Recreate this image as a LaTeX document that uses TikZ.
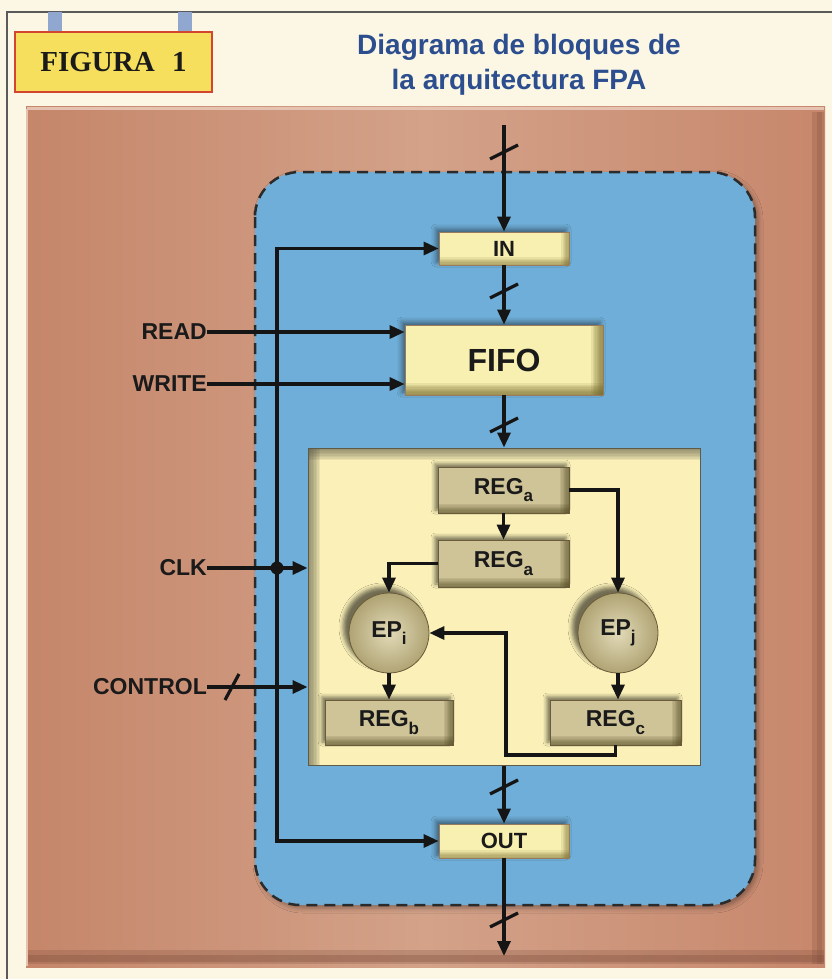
\documentclass[tikz,border=0pt]{standalone}
\usepackage{fontspec}
\setmainfont{Liberation Sans}
\newfontfamily\figfont{Liberation Serif}
\usetikzlibrary{arrows.meta,shadows.blur,calc}
\definecolor{cream}{HTML}{FBF7E4}
\definecolor{framec}{HTML}{5A5A5A}
\definecolor{tabc}{HTML}{90A8CF}
\definecolor{figfill}{HTML}{F5DF5C}
\definecolor{figbord}{HTML}{D2452E}
\definecolor{titlec}{HTML}{2C4E8F}
\definecolor{brL}{HTML}{C5866A}
\definecolor{brM}{HTML}{D3A289}
\definecolor{brR}{HTML}{C7876C}
\definecolor{brHi}{HTML}{E6C3B0}
\definecolor{brDk}{HTML}{7A4A38}
\definecolor{bluec}{HTML}{6FAED8}
\definecolor{dashc}{HTML}{2B2B2B}
\definecolor{wirec}{HTML}{151515}
\definecolor{textc}{HTML}{1A1A1A}
\definecolor{yfill}{HTML}{F8F0B0}
\definecolor{yshad}{HTML}{6E6428}
\definecolor{ybord}{HTML}{9A7A5C}
\definecolor{innerfill}{HTML}{FBF1B8}
\definecolor{innershad}{HTML}{5E5C48}
\definecolor{regfill}{HTML}{CFC398}
\definecolor{regshad}{HTML}{4E4420}
\definecolor{regbord}{HTML}{6A5C3A}
\definecolor{epin}{HTML}{E2DAB8}
\definecolor{epout}{HTML}{B0A474}
\newcommand\lowsub[1]{\raisebox{-0.33em}{\fontsize{17}{17}\selectfont #1}}
\tikzset{
  wire/.style={line width=3.2pt, draw=wirec},
  arr/.style={wire, -{Triangle[length=15pt,width=13pt]}},
  slashmark/.style={line width=3.2pt, draw=wirec},
  edgeshade/.style 2 args={path picture={
      \foreach \k [evaluate=\k as \d using \k*1.3] in {1,...,#2}{
        \fill[#1, opacity=0.11]
          ([yshift=\d pt]path picture bounding box.south west) rectangle (path picture bounding box.south east);
        \fill[#1, opacity=0.11]
          ([xshift=-\d pt]path picture bounding box.north east) rectangle (path picture bounding box.south east);}}},
  ybox/.style={rectangle, draw=ybord, line width=0.8pt, fill=yfill, inner sep=0pt, text=textc,
      blur shadow={shadow xshift=-3pt, shadow yshift=3pt, shadow blur radius=5pt, shadow opacity=45}},
  regbox/.style={rectangle, draw=regbord, line width=0.8pt, fill=regfill, inner sep=0pt, text=textc,
      font=\bfseries\fontsize{23}{25}\selectfont, edgeshade={regshad}{7},
      blur shadow={shadow xshift=-3pt, shadow yshift=3pt, shadow blur radius=4pt, shadow opacity=55}},
  epnode/.style={circle, minimum size=80pt, inner sep=0pt, draw=regbord, line width=0.8pt,
      inner color=epin, outer color=epout, text=textc, font=\bfseries\fontsize{23}{25}\selectfont,
      blur shadow={shadow xshift=-6pt, shadow yshift=6pt, shadow blur radius=4pt, shadow opacity=55}},
  lbl/.style={anchor=east, inner sep=0pt, text=textc, font=\bfseries\fontsize{23}{25}\selectfont},
}
\begin{document}
\begin{tikzpicture}[x=1pt,y=-1pt]
\useasboundingbox (0,0) rectangle (832,979);
% page background and frame
\fill[cream] (0,0) rectangle (832,979);
\draw[framec, line width=1.2pt] (7,979) -- (7,12) -- (832,12);
\fill[tabc] (48,12) rectangle (62,32);
\fill[tabc] (178,12) rectangle (192,32);
% header
\node[rectangle, draw=figbord, line width=1.5pt, fill=figfill, minimum width=197pt, minimum height=60pt,
      font=\figfont\bfseries\fontsize{29}{31}\selectfont, text=textc] (fig) at (113.5,62) {FIGURA\hspace{0.6em}1};
\node[align=center, text=titlec, font=\bfseries\fontsize{28}{35}\selectfont] (title) at (519,65)
  {Diagrama de bloques de\\la arquitectura FPA};
% brown panel
\shade[left color=brL, right color=brR, middle color=brM] (26,107) rectangle (825,967);
\draw[brHi, line width=3pt] (27,109) -- (824,109);
\draw[brHi, line width=2pt] (27,109) -- (27,966);
\fill[brDk, opacity=0.25] (28,950) rectangle (824,964);
\fill[brDk, opacity=0.3] (28,955) rectangle (824,962);
\fill[brDk, opacity=0.22] (812,112) rectangle (824,964);
\fill[brDk, opacity=0.22] (817,112) rectangle (822,964);
% blue region
\draw[dashc, line width=2.5pt, dash pattern=on 11pt off 7pt, fill=bluec, rounded corners=45pt,
      blur shadow={shadow xshift=3pt, shadow yshift=-3pt, shadow blur radius=5pt, shadow opacity=35}]
  (255,172) rectangle (755,905);
% inner yellow container
\node[rectangle, draw=innershad, line width=1pt, fill=innerfill, minimum width=392pt, minimum height=317pt,
      path picture={
        \foreach \k [evaluate=\k as \d using \k*1.5] in {1,...,8}{
          \fill[innershad, opacity=0.11]
            (path picture bounding box.north west) rectangle ([xshift=\d pt]path picture bounding box.south west);
          \fill[innershad, opacity=0.11]
            (path picture bounding box.north west) rectangle ([yshift=-\d pt]path picture bounding box.north east);}}]
  (inner) at (504,606.5) {};
% main blocks
\node[ybox, minimum width=130pt, minimum height=33pt, edgeshade={yshad}{6},
      font=\bfseries\fontsize{22}{24}\selectfont] (in) at (504,248.5) {IN};
\node[ybox, minimum width=198pt, minimum height=70pt, edgeshade={yshad}{9},
      font=\bfseries\fontsize{32}{34}\selectfont] (fifo) at (504,360) {FIFO};
\node[ybox, minimum width=130pt, minimum height=34pt, edgeshade={yshad}{6},
      font=\bfseries\fontsize{22}{24}\selectfont] (out) at (504,841) {OUT};
\node[regbox, minimum width=131pt, minimum height=46pt] (rega1) at (503.5,490) {REG\lowsub{a}};
\node[regbox, minimum width=131pt, minimum height=47pt] (rega2) at (503.5,563.5) {REG\lowsub{a}};
\node[epnode] (epi) at (389,633) {EP\lowsub{i}};
\node[epnode] (epj) at (618,633) {EP\lowsub{j}};
\node[regbox, minimum width=128pt, minimum height=45pt] (regb) at (389,722.5) {REG\lowsub{b}};
\node[regbox, minimum width=131pt, minimum height=45pt] (regc) at (615.5,722.5) {REG\lowsub{c}};
% labels
\node[lbl] (read) at (207,332) {READ};
\node[lbl] (write) at (207,384) {WRITE};
\node[lbl] (clk) at (207,568) {CLK};
\node[lbl] (control) at (207,687) {CONTROL};
% coordinates
\coordinate (busx) at (277,0);
\coordinate (inTop) at (504,125);
\coordinate (outBot) at (504,956);
\coordinate (clkdot) at (clk.east -| busx);
\coordinate (fb) at (506,755);
% main data path
\draw[arr] (inTop) -- (in.north);
\draw[arr] (in.south) -- (fifo.north);
\draw[arr] (fifo.south) -- (inner.north);
\draw[arr] (inner.south) -- (out.north);
\draw[arr] (out.south) -- (outBot);
\draw[slashmark] (504,152) ++(-14,7) -- ++(28,-14);
\draw[slashmark] (504,291) ++(-14,7) -- ++(28,-14);
\draw[slashmark] (504,425) ++(-14,7) -- ++(28,-14);
\draw[slashmark] (504,787) ++(-14,7) -- ++(28,-14);
\draw[slashmark] (504,920) ++(-14,7) -- ++(28,-14);
% control bus
\draw[wire, {Triangle[length=15pt,width=13pt]}-{Triangle[length=15pt,width=13pt]}]
  (in.west) -- (in.west -| busx) -- (out.west -| busx) -- (out.west);
\draw[arr] (read.east) -- (read.east -| fifo.west);
\draw[arr] (write.east) -- (write.east -| fifo.west);
\draw[wire] (clk.east) -- (clkdot);
\draw[arr] (clkdot) -- (clkdot -| inner.west);
\fill[wirec] (clkdot) circle (6.5);
\draw[arr] (control.east) -- (control.east -| inner.west);
\draw[slashmark] (232,687) ++(-7,13) -- ++(14,-26);
% inner connections
\draw[arr] (rega1.south) -- (rega2.north);
\draw[arr] (rega1.east) -| (epj.north);
\draw[arr] (rega2.west) -| (epi.north);
\draw[arr] (epi.south) -- (regb.north);
\draw[arr] (epj.south) -- (epj.south |- regc.north);
\draw[arr] (regc.south) |- (fb) |- (epi.east);
\end{tikzpicture}
\end{document}
